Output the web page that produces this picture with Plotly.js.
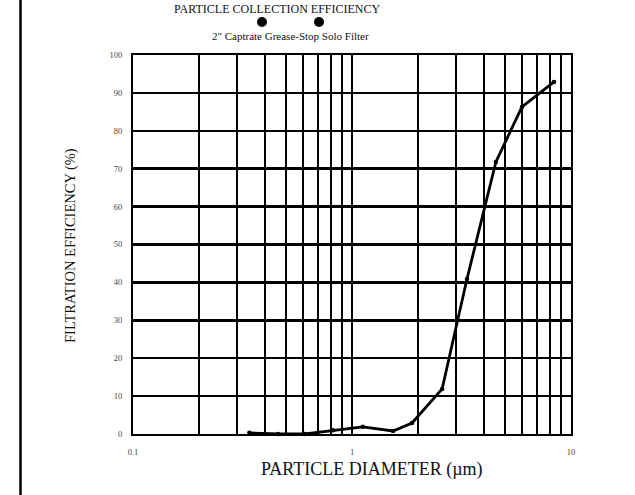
<!DOCTYPE html>
<html>
<head>
<meta charset="utf-8">
<script src="https://cdn.plot.ly/plotly-3.0.1.min.js"></script>
<style>html,body{margin:0;padding:0;background:#fff;}#chart{width:635px;height:495px;}</style>
</head>
<body>
<div id="chart"></div>
<script>
// Data
const diameter = [0.34, 0.46, 0.61, 0.82, 1.12, 1.54, 1.88, 2.58, 3.35, 4.54, 5.97, 8.36];
const efficiency = [0.3, 0.0, 0.0, 1.0, 1.9, 0.8, 2.9, 11.9, 40.9, 71.8, 86.3, 92.9];

const xGridVals = [0.1,0.2,0.3,0.4,0.5,0.6,0.7,0.8,0.9,1,2,3,4,5,6,7,8,9,10];
const xGridText = ["0.1","","","","","","","","","1","","","","","","","","","10"];
const yTickVals = [0,10,20,30,40,50,60,70,80,90,100];

const titleText = "PARTICLE COLLECTION EFFICIENCY";
const subtitleText = '2" Captrate Grease-Stop Solo Filter';
const xTitle = "PARTICLE DIAMETER (\u00b5m)";
const yTitle = "FILTRATION EFFICIENCY (%)";

const serif = "Liberation Serif, Times New Roman, serif";

const trace = {
  x: diameter,
  y: efficiency,
  type: "scatter",
  mode: "lines+markers",
  line: {color: "#000", width: 2.8},
  marker: {color: "#000", size: 4.5},
  showlegend: false,
  cliponaxis: false
};

const W = 635, H = 495, L = 133, R = 64, T = 55, B = 61;
const pw = W - L - R, ph = H - T - B;
const px = v => (v - L) / pw;
const py = v => (H - B - v) / ph;

const layout = {
  width: W, height: H,
  margin: {l: L, r: R, t: T, b: B, pad: 0},
  paper_bgcolor: "#fff",
  plot_bgcolor: "#fff",
  showlegend: false,
  xaxis: {
    type: "log",
    range: [-1, 1],
    tickvals: xGridVals,
    ticktext: xGridText,
    ticks: "",
    ticklabelstandoff: 9,
    showgrid: true,
    gridcolor: "#000",
    gridwidth: 2,
    zeroline: false,
    showline: true,
    linecolor: "#000",
    linewidth: 2,
    mirror: true,
    tickfont: {family: serif, size: 8.5, color: "#444"}
  },
  yaxis: {
    range: [0, 100],
    tickvals: yTickVals,
    ticks: "",
    ticklabelstandoff: 7,
    showgrid: true,
    gridcolor: "#000",
    gridwidth: 2.5,
    zeroline: false,
    showline: true,
    linecolor: "#000",
    linewidth: 2,
    mirror: true,
    tickfont: {family: serif, size: 8.5, color: "#444"}
  },
  annotations: [
    {xref: "paper", yref: "paper", x: px(277), y: py(0), xanchor: "center", yanchor: "top",
     text: titleText, showarrow: false, font: {family: serif, size: 12, color: "#111"}},
    {xref: "paper", yref: "paper", x: px(290), y: py(36), xanchor: "center", yanchor: "middle",
     text: subtitleText, showarrow: false, font: {family: serif, size: 11, color: "#111"}},
    {xref: "paper", yref: "paper", x: px(372), y: py(469), xanchor: "center", yanchor: "middle",
     text: xTitle, showarrow: false, font: {family: serif, size: 18, color: "#111"}},
    {xref: "paper", yref: "paper", x: px(70), y: py(246), xanchor: "center", yanchor: "middle",
     text: yTitle, textangle: -90, showarrow: false, font: {family: serif, size: 14.5, color: "#111"}}
  ],
  shapes: [
    {type: "line", xref: "paper", yref: "paper", x0: px(20.5), x1: px(20.5), y0: py(-5), y1: py(500),
     line: {color: "#000", width: 2.5}},
    {type: "circle", xref: "paper", yref: "paper", xsizemode: "pixel", ysizemode: "pixel",
     xanchor: px(262), yanchor: py(22), x0: -5, x1: 5, y0: -5, y1: 5,
     fillcolor: "#000", line: {color: "#000", width: 0}},
    {type: "circle", xref: "paper", yref: "paper", xsizemode: "pixel", ysizemode: "pixel",
     xanchor: px(319), yanchor: py(22), x0: -5, x1: 5, y0: -5, y1: 5,
     fillcolor: "#000", line: {color: "#000", width: 0}}
  ]
};

Plotly.newPlot("chart", [trace], layout, {displayModeBar: false, staticPlot: true});
</script>
</body>
</html>
